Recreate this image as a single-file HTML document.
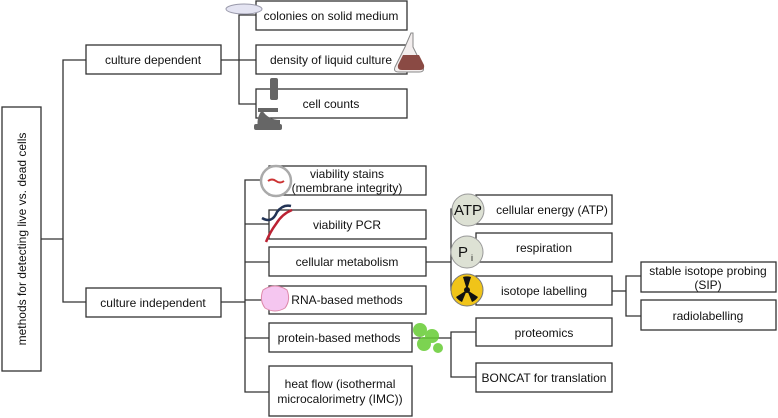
<!DOCTYPE html>
<html><head><style>
body{margin:0;background:#fff}
svg{display:block}
text{font-family:"Liberation Sans",sans-serif;font-size:12px;fill:#111}
</style></head><body>
<svg width="778" height="418" viewBox="0 0 778 418">
<g fill="none" stroke="#333" stroke-width="1.3">
<line x1="41" y1="239" x2="63" y2="239"/>
<polyline points="86,60 63,60 63,302 86,302"/>
<line x1="221" y1="60" x2="256" y2="60"/>
<polyline points="256,15 239,15 239,104 256,104"/>
<line x1="221" y1="302" x2="245" y2="302"/>
<polyline points="269,180 245,180 245,392 269,392"/>
<line x1="245" y1="224" x2="269" y2="224"/>
<line x1="245" y1="262" x2="269" y2="262"/>
<line x1="245" y1="300" x2="269" y2="300"/>
<line x1="245" y1="338" x2="269" y2="338"/>
<line x1="426" y1="262" x2="451" y2="262"/>
<polyline points="476,209 451,209 451,290 476,290"/>
<line x1="451" y1="248" x2="476" y2="248"/>
<line x1="612" y1="291" x2="626" y2="291"/>
<polyline points="641,276 626,276 626,316 641,316"/>
<line x1="412" y1="338" x2="451" y2="338"/>
<polyline points="476,332 451,332 451,377 476,377"/>
</g>
<g fill="#fff" stroke="#333" stroke-width="1.3">
<rect x="2" y="107" width="39" height="264"/>
<rect x="86" y="45" width="135" height="29"/>
<rect x="86" y="288" width="135" height="29"/>
<rect x="256" y="1" width="151" height="29"/>
<rect x="256" y="45" width="151" height="29"/>
<rect x="256" y="89" width="151" height="29"/>
<rect x="269" y="166" width="157" height="29"/>
<rect x="269" y="210" width="157" height="29"/>
<rect x="269" y="247" width="157" height="29"/>
<rect x="269" y="286" width="157" height="28"/>
<rect x="269" y="323" width="143" height="29"/>
<rect x="269" y="366" width="143" height="50"/>
<rect x="476" y="195" width="136" height="29"/>
<rect x="476" y="233" width="136" height="29"/>
<rect x="476" y="276" width="136" height="29"/>
<rect x="476" y="318" width="136" height="28"/>
<rect x="476" y="363" width="136" height="29"/>
<rect x="641" y="262" width="135" height="30"/>
<rect x="641" y="300" width="135" height="30"/>
</g>
<ellipse cx="244" cy="9" rx="18" ry="5" fill="#e4e4f2" stroke="#99a" />
<g>
<path d="M411,33 l2,0 l0,14 l10,20 q2,5 -4,5 l-20,0 q-6,0 -4,-5 l10,-20 z" fill="#f3eeee" stroke="#888"/>
<path d="M403,55 l16,0 l5,10 q1,5 -4,5 l-18,0 q-5,0 -4,-5 z" fill="#8a4a44"/>
</g>
<g fill="#666">
<rect x="270" y="78" width="8" height="22" rx="2"/>
<rect x="258" y="108" width="20" height="4"/>
<path d="M262,110 q6,10 18,10 l0,8 l-22,0 q-2,-10 4,-18z"/>
<rect x="254" y="124" width="28" height="6" rx="2"/>
</g>
<circle cx="276" cy="181" r="15" fill="#fff" stroke="#aaa" stroke-width="2.5"/>
<path d="M268,181 q4,-3 8,0 q4,3 8,0" stroke="#c33" stroke-width="2" fill="none"/>
<path d="M262,218 q10,6 15,-6 q6,-8 14,-6" stroke="#235" stroke-width="2.5" fill="none"/>
<path d="M266,242 q4,-10 10,-18 q6,-10 16,-14" stroke="#b23" stroke-width="2.5" fill="none"/>
<path d="M263,290 q12,-8 24,0 q4,10 -2,18 q-10,6 -20,0 q-6,-8 -2,-18z" fill="#f5c6f0" stroke="#d8a"/>
<g fill="#6c3" opacity="0.85"><circle cx="420" cy="330" r="7"/><circle cx="432" cy="336" r="7"/><circle cx="424" cy="344" r="7"/><circle cx="438" cy="348" r="5"/></g>
<circle cx="468" cy="210" r="16" fill="#dde1d4" stroke="#999"/>
<text x="468" y="215" text-anchor="middle" style="font-size:15px">ATP</text>
<circle cx="467" cy="252" r="16" fill="#dde1d4" stroke="#999"/>
<text x="463" y="257" text-anchor="middle" style="font-size:15px">P</text><text x="471" y="261" style="font-size:9px">i</text>
<circle cx="467" cy="290" r="16" fill="#f0c419" stroke="#777"/>
<circle cx="467" cy="290" r="3" fill="#111"/>
<path d="M467,290 L463,277 A14,14 0 0 1 471,277 Z M467,290 L478,297 A14,14 0 0 1 472,302 Z M467,290 L462,302 A14,14 0 0 1 456,297 Z" fill="#111"/>
<text transform="translate(26,239) rotate(-90)" text-anchor="middle">methods for detecting live vs. dead cells</text>
<text x="153" y="64" text-anchor="middle">culture dependent</text>
<text x="153" y="307" text-anchor="middle">culture independent</text>
<text x="331" y="20" text-anchor="middle">colonies on solid medium</text>
<text x="331" y="64" text-anchor="middle">density of liquid culture</text>
<text x="331" y="108" text-anchor="middle">cell counts</text>
<text x="347" y="178" text-anchor="middle">viability stains</text>
<text x="347" y="192" text-anchor="middle">(membrane integrity)</text>
<text x="347" y="229" text-anchor="middle">viability PCR</text>
<text x="347" y="266" text-anchor="middle">cellular metabolism</text>
<text x="347" y="304" text-anchor="middle">RNA-based methods</text>
<text x="339" y="342" text-anchor="middle">protein-based methods</text>
<text x="340" y="388" text-anchor="middle">heat flow (isothermal</text>
<text x="340" y="403" text-anchor="middle">microcalorimetry (IMC))</text>
<text x="552" y="214" text-anchor="middle">cellular energy (ATP)</text>
<text x="544" y="252" text-anchor="middle">respiration</text>
<text x="544" y="295" text-anchor="middle">isotope labelling</text>
<text x="544" y="337" text-anchor="middle">proteomics</text>
<text x="544" y="382" text-anchor="middle">BONCAT for translation</text>
<text x="708" y="275" text-anchor="middle">stable isotope probing</text>
<text x="708" y="289" text-anchor="middle">(SIP)</text>
<text x="708" y="320" text-anchor="middle">radiolabelling</text>
</svg>
</body></html>
